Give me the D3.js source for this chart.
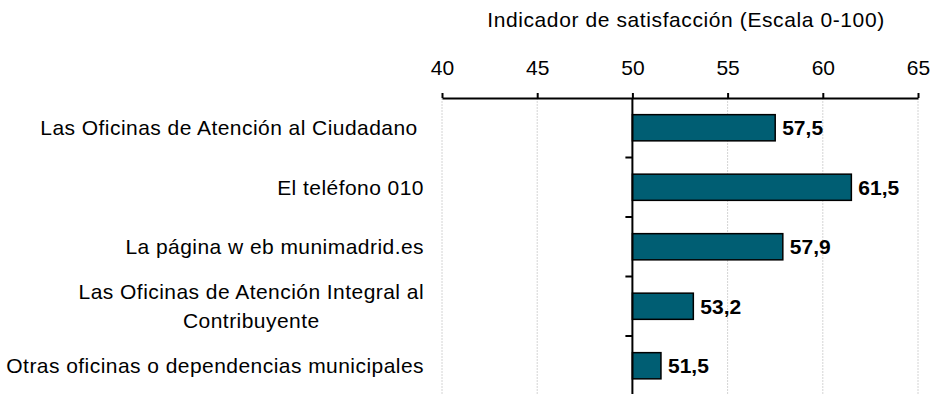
<!DOCTYPE html>
<html>
<head>
<meta charset="utf-8">
<script src="https://cdn.jsdelivr.net/npm/d3@7"></script>
<style>
  html, body { margin: 0; padding: 0; background: #fff; }
  svg { display: block; font-family: "Liberation Sans", Arial, sans-serif; }
  .cat tspan { white-space: pre; }
</style>
</head>
<body>
<svg id="chart" width="934" height="394"></svg>
<script>
// Satisfaction indicator per citizen-service channel (scale 0-100)
const categories = [
  ["Las Oficinas de Atención al Ciudadano "],
  ["El teléfono 010"],
  ["La página w eb munimadrid.es"],
  ["Las Oficinas de Atención Integral al", "Contribuyente"],
  ["Otras oficinas o dependencias municipales"]
];
const values = [57.5, 61.5, 57.9, 53.2, 51.5];
const valueLabels = ["57,5", "61,5", "57,9", "53,2", "51,5"];
const xTicks = [40, 45, 50, 55, 60, 65];
const axisTitle = "Indicador de satisfacción (Escala 0-100)";

const svg = d3.select("#chart");
const plotLeft = 442, plotRight = 918, plotTop = 98, plotBottom = 395.5;
const baseline = 50;

const x = d3.scaleLinear().domain([40, 65]).range([plotLeft, plotRight]);
const y = d3.scaleBand().domain(d3.range(categories.length)).range([plotTop, plotBottom]).paddingInner(0.56).paddingOuter(0.28);
const band = d3.scaleBand().domain(d3.range(categories.length)).range([plotTop, plotBottom]);

// vertical gridlines
svg.append("g").selectAll("line").data(xTicks.filter(d => d !== baseline)).join("line")
  .attr("x1", d => x(d)).attr("x2", d => x(d))
  .attr("y1", plotTop).attr("y2", 394)
  .attr("stroke", "#d4d4d4").attr("stroke-width", 1).attr("stroke-dasharray", "2,1");

// top axis
const axis = svg.append("g").attr("transform", `translate(0,${plotTop})`)
  .call(d3.axisTop(x).tickValues(xTicks).tickSize(5).tickSizeOuter(0).tickPadding(18));
axis.select(".domain").attr("stroke", "#000").attr("stroke-width", 2);
axis.selectAll(".tick line").attr("stroke", "#000").attr("stroke-width", 2);
axis.selectAll(".tick text").attr("font-size", 21).attr("fill", "#000")
  .attr("font-family", "Liberation Sans, Arial, sans-serif");

// axis title
svg.append("text").attr("x", (x(40) + x(65)) / 2 + 6).attr("y", 27)
  .attr("text-anchor", "middle").attr("font-size", 21).attr("letter-spacing", 0.6).attr("fill", "#000")
  .text(axisTitle);

// bars
svg.append("g").selectAll("rect").data(values).join("rect")
  .attr("x", x(baseline))
  .attr("y", (d, i) => y(i))
  .attr("width", d => x(d) - x(baseline))
  .attr("height", y.bandwidth())
  .attr("fill", "#005E73").attr("stroke", "#000").attr("stroke-width", 1.5);

// value labels
svg.append("g").selectAll("text").data(values).join("text")
  .attr("x", d => x(d) + 7)
  .attr("y", (d, i) => y(i) + y.bandwidth() / 2)
  .attr("dy", "0.36em")
  .attr("font-size", 21).attr("font-weight", "bold").attr("fill", "#000")
  .text((d, i) => valueLabels[i]);

// category axis at the baseline
svg.append("line").attr("x1", x(baseline)).attr("x2", x(baseline))
  .attr("y1", plotTop).attr("y2", 394).attr("stroke", "#000").attr("stroke-width", 2);
svg.append("g").selectAll("line").data(d3.range(1, categories.length)).join("line")
  .attr("x1", x(baseline) - 7).attr("x2", x(baseline))
  .attr("y1", i => band(i)).attr("y2", i => band(i))
  .attr("stroke", "#000").attr("stroke-width", 2);

// category labels
const labelX = 424;
const cat = svg.append("g").attr("class", "cat").selectAll("text").data(categories).join("text")
  .attr("font-size", 21).attr("letter-spacing", 0.45).attr("fill", "#000").attr("text-anchor", "middle");
cat.each(function(lines, i) {
  const t = d3.select(this);
  const lh = 29;
  const cy = band(i) + band.bandwidth() / 2;
  lines.forEach((s, k) => {
    t.append("tspan").attr("y", cy + (k - (lines.length - 1) / 2) * lh).attr("dy", "0.36em").text(s);
  });
});
// right-align each label block, centring its lines within it
cat.each(function() {
  const t = d3.select(this);
  const w = d3.max(t.selectAll("tspan").nodes(), n => n.getComputedTextLength());
  t.selectAll("tspan").attr("x", labelX - w / 2);
});
</script>
</body>
</html>
